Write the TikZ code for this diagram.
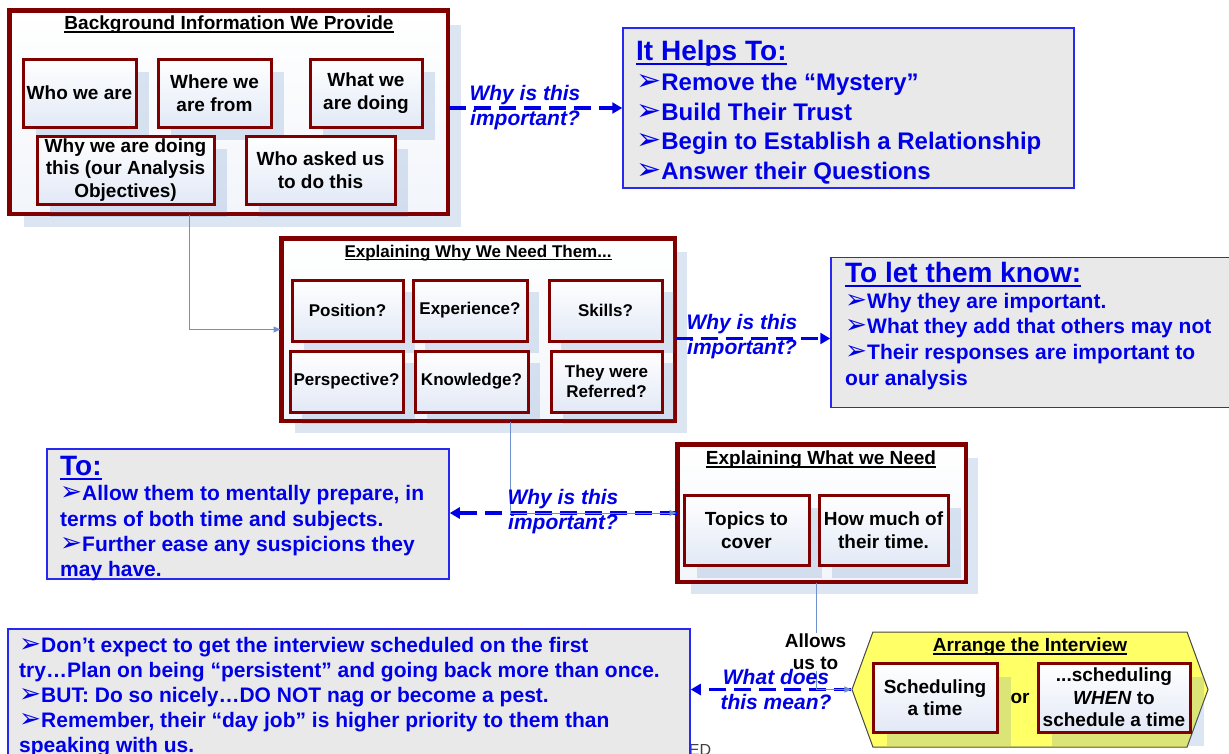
\documentclass[tikz,border=0pt]{standalone}
\usepackage{fontspec}
\setmainfont{Liberation Sans}
\newfontfamily\dingfont{DejaVu Sans}
\usetikzlibrary{arrows.meta, shapes.symbols}

\definecolor{framered}{RGB}{128,0,0}
\definecolor{shadowblue}{RGB}{79,129,189}
\definecolor{linkblue}{RGB}{110,145,205}
\definecolor{notegray}{RGB}{233,233,233}
\definecolor{noteblue}{RGB}{40,40,240}
\definecolor{textblue}{RGB}{0,0,230}
\definecolor{boxtint}{RGB}{226,233,246}
\definecolor{hexyellow}{RGB}{255,255,102}
\definecolor{hexline}{RGB}{70,70,70}

\newcommand\bul{\scalebox{1.25}{\dingfont\mdseries ➢}}
\newcommand\ulin[1]{\setbox0=\hbox{#1}\rlap{\rule[-0.15em]{\wd0}{0.07em}}\box0}

\begin{document}
\begin{tikzpicture}[x=1pt, y=-1pt,
    shadowbox/.style={fill=shadowblue, fill opacity=0.2, draw=none, inner sep=0pt},
    outerbox/.style={draw=framered, line width=3pt, top color=white, bottom color=boxtint!45, inner sep=0pt},
    subbox/.style={draw=framered, line width=3pt, top color=white, bottom color=boxtint, inner sep=2pt, align=center, font=\bfseries\fontsize{19}{22.5}\selectfont},
    subsmall/.style={subbox, font=\bfseries\fontsize{17}{20.5}\selectfont},
    boxtitle/.style={font=\bfseries\fontsize{19}{22}\selectfont, inner sep=0pt},
    notebox/.style={draw=noteblue, line width=1.5pt, fill=notegray, inner sep=0pt},
    notetext/.style={anchor=north west, align=left, text=textblue, inner sep=0pt},
    whylabel/.style={align=center, text=textblue, font=\bfseries\itshape\fontsize{21}{25}\selectfont, inner sep=0pt},
    dasharrow/.style={draw=textblue, line width=3.5pt, dash pattern=on 17pt off 8pt, -{Triangle[length=10pt, width=11pt]}},
    linkarrow/.style={draw=linkblue, line width=1pt, -{Triangle[length=7pt, width=6pt]}},
    hexbox/.style={signal, signal to=east and west, signal pointer angle=140, draw=hexline, line width=1pt, fill=hexyellow, minimum width=356pt, minimum height=115pt, inner sep=0pt}]
    \useasboundingbox (0, 0) rectangle (1229, 753);
    \clip (0, 0) rectangle (1229, 753);

    % background information
    \node [shadowbox, minimum width=437pt, minimum height=202pt] (bgsh) at (242.5, 126) {};
    \node [outerbox, minimum width=437pt, minimum height=202pt] (bg) at (228.5, 112) {};
    \node [boxtitle] (bgtitle) at (229, 25) {\ulin{Background Information We Provide}};
    \node [shadowbox, minimum width=113pt, minimum height=68pt] (whosh) at (92.5, 106) {};
    \node [shadowbox, minimum width=113pt, minimum height=68pt] (wheresh) at (227.5, 106) {};
    \node [shadowbox, minimum width=112pt, minimum height=68pt] (whatsh) at (379, 106) {};
    \node [shadowbox, minimum width=177pt, minimum height=68pt] (whydosh) at (138.5, 183) {};
    \node [shadowbox, minimum width=149pt, minimum height=68pt] (askedsh) at (333.5, 183) {};
    \draw [framered, line width=3pt] (bg.north west) rectangle (bg.south east);
    \node [subbox, minimum width=113pt, minimum height=68pt] (who) at (79.5, 93) {Who we are};
    \node [subbox, minimum width=113pt, minimum height=68pt] (where) at (214.5, 93) {Where we\\are from};
    \node [subbox, minimum width=112pt, minimum height=68pt] (what) at (366, 93) {What we\\are doing};
    \node [subbox, minimum width=177pt, minimum height=68pt] (whydo) at (125.5, 170) {Why we are doing\\this (our Analysis\\Objectives)};
    \node [subbox, minimum width=149pt, minimum height=68pt] (asked) at (320.5, 170) {Who asked us\\to do this};

    % it helps to
    \node [notebox, minimum width=451pt, minimum height=160pt] (helps) at (848.5, 108) {};
    \node [notetext, font=\bfseries\fontsize{24}{29.5}\selectfont] (helpstxt) at (636, 40) {{\fontsize{28}{33}\selectfont\ulin{It Helps To:}}\\[1pt]
        \bul Remove the “Mystery”\\ \bul Build Their Trust\\ \bul Begin to Establish a Relationship\\ \bul Answer their Questions};
    \draw [dasharrow] (bg.east |- helps.west) -- (helps.west);
    \node [whylabel] (why1) at (525, 108) {Why is this\\important?};

    % explaining why we need them
    \node [shadowbox, minimum width=392pt, minimum height=181pt] (explainsh) at (491, 342.5) {};
    \node [outerbox, minimum width=392pt, minimum height=181pt] (explain) at (478, 329.5) {};
    \node [boxtitle, font=\bfseries\fontsize{17}{20}\selectfont] (explaintitle) at (478, 253) {\ulin{Explaining Why We Need Them...}};
    \node [shadowbox, minimum width=111pt, minimum height=61pt] (possh) at (359.5, 322.5) {};
    \node [shadowbox, minimum width=114pt, minimum height=61pt] (expsh) at (482, 322.5) {};
    \node [shadowbox, minimum width=113pt, minimum height=61pt] (skillssh) at (617.5, 322.5) {};
    \node [shadowbox, minimum width=113pt, minimum height=61pt] (perspsh) at (358.5, 393.5) {};
    \node [shadowbox, minimum width=113pt, minimum height=61pt] (knowsh) at (483.5, 393.5) {};
    \node [shadowbox, minimum width=111pt, minimum height=61pt] (refsh) at (618.5, 393.5) {};
    \draw [framered, line width=3pt] (explain.north west) rectangle (explain.south east);
    \node [subsmall, minimum width=111pt, minimum height=61pt] (pos) at (347.5, 310.5) {Position?};
    \node [subsmall, minimum width=114pt, minimum height=61pt] (exp) at (470, 310.5) {Experience?};
    \node [subsmall, minimum width=113pt, minimum height=61pt] (skills) at (605.5, 310.5) {Skills?};
    \node [subsmall, minimum width=113pt, minimum height=61pt] (persp) at (346.5, 381.5) {Perspective?};
    \node [subsmall, minimum width=113pt, minimum height=61pt] (know) at (471.5, 381.5) {Knowledge?};
    \node [subsmall, minimum width=111pt, minimum height=61pt] (ref) at (606.5, 381.5) {They were\\Referred?};
    \draw [linkarrow] ([xshift=-39.5pt]bg.south) |- (explain.west);

    % to let them know
    \node [notebox, minimum width=409pt, minimum height=150pt] (tolet) at (1035.5, 332.5) {};
    \node [notetext, font=\bfseries\fontsize{21}{25.7}\selectfont] (tolettxt) at (845, 262) {{\fontsize{28}{33}\selectfont\ulin{To let them know:}}\\
        \bul Why they are important.\\ \bul What they add that others may not\\ \bul Their responses are important to\\ our analysis};
    \draw [dasharrow] ([yshift=-9pt]explain.east) -- ([yshift=-6pt]tolet.west);
    \node [whylabel] (why2) at (742, 337) {Why is this\\important?};

    % explaining what we need
    \node [shadowbox, minimum width=287pt, minimum height=136pt] (needssh) at (834.5, 526) {};
    \node [outerbox, minimum width=287pt, minimum height=136pt] (needs) at (821.5, 513) {};
    \node [boxtitle] (needstitle) at (821, 460) {\ulin{Explaining What we Need}};
    \node [shadowbox, minimum width=125pt, minimum height=70pt] (topicssh) at (759.5, 543) {};
    \node [shadowbox, minimum width=129pt, minimum height=70pt] (howmuchsh) at (896.5, 543) {};
    \draw [framered, line width=3pt] (needs.north west) rectangle (needs.south east);
    \node [subbox, minimum width=125pt, minimum height=70pt] (topics) at (746.5, 530) {Topics to\\cover};
    \node [subbox, minimum width=129pt, minimum height=70pt] (howmuch) at (883.5, 530) {How much of\\their time.};

    % to
    \node [notebox, minimum width=402pt, minimum height=130pt] (tobox) at (248, 514) {};
    \node [notetext, font=\bfseries\fontsize{21}{25.3}\selectfont] (totxt) at (60, 456) {{\fontsize{28}{33}\selectfont\ulin{To:}}\\
        \bul Allow them to mentally prepare, in\\ terms of both time and subjects.\\ \bul Further ease any suspicions they\\ may have.};
    \draw [dasharrow] (needs.west) -- (tobox.east |- needs.west);
    \draw [linkarrow] ([xshift=32pt]explain.south) |- (needs.west);
    \node [whylabel] (why3) at (563, 512) {Why is this\\important?};

    % arrange the interview
    \node [hexbox] (hex) at (1030, 689.5) {};
    \node [boxtitle] (hextitle) at (1030, 647) {\ulin{Arrange the Interview}};
    \node [shadowbox, minimum width=124pt, minimum height=69pt] (schedsh) at (949, 711.5) {};
    \node [shadowbox, minimum width=152pt, minimum height=69pt] (whensh) at (1128, 711.5) {};
    \node [subbox, minimum width=124pt, minimum height=69pt] (sched) at (935, 697.5) {Scheduling\\a time};
    \node [subbox, minimum width=152pt, minimum height=69pt] (when) at (1114, 697.5) {...scheduling\\\textit{WHEN} to\\schedule a time};
    \node [boxtitle] (or) at (1020, 698) {or};

    % persistence
    \node [font=\fontsize{16}{18}\selectfont, text=black!75, inner sep=0pt] (ed) at (700, 750) {ED};
    \node [notebox, minimum width=682pt, minimum height=131pt] (persist) at (349, 694.5) {};
    \node [notetext, font=\bfseries\fontsize{21}{25}\selectfont] (persisttxt) at (19, 637) {\bul Don’t expect to get the interview scheduled on the first\\
        try…Plan on being “persistent” and going back more than once.\\ \bul BUT: Do so nicely…DO NOT nag or become a pest.\\
        \bul Remember, their “day job” is higher priority to them than\\ speaking with us.};
    \draw [dasharrow] (hex.west) -- (persist.east |- hex.west);
    \draw [linkarrow] ([xshift=-5.5pt]needs.south) |- (hex.west);
    \node [boxtitle, align=center, fill=white, inner sep=1pt] (allows) at (815.5, 652) {Allows\\us to};
    \node [whylabel] (why4) at (776, 689) {What does\\this mean?};
\end{tikzpicture}
\end{document}
